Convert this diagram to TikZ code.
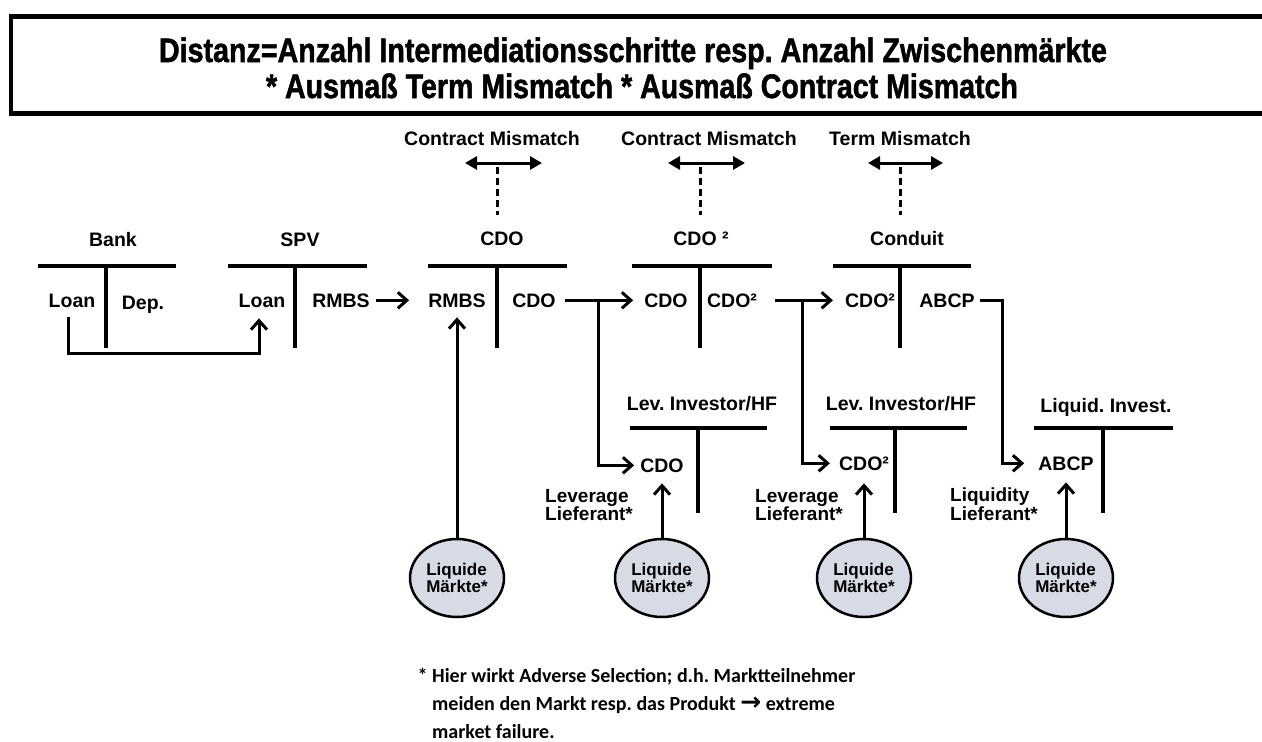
\documentclass[tikz,border=0pt]{standalone}
\usepackage{graphicx}
\usepackage{fontspec}
\setmainfont{Liberation Sans}
\newfontfamily\headfont{Liberation Sans}[FakeBold=1.6]
\newfontfamily\notefont{Carlito}
\newfontfamily\symbolfont{DejaVu Sans}
\usetikzlibrary{arrows.meta,shapes.geometric}
\definecolor{mkfill}{RGB}{214,219,229}
\frenchspacing

\begin{document}
\begin{tikzpicture}[x=1pt,y=-1pt,
  lbl/.style={font=\fontsize{19.5}{22}\selectfont\bfseries, inner sep=0pt, anchor=base},
  sidenote/.style={font=\fontsize{19}{17}\selectfont\bfseries, inner sep=0pt, align=left, anchor=west},
  titletext/.style={font=\headfont\fontsize{34}{34}\selectfont\bfseries, inner sep=0pt, anchor=base},
  acct/.style={line width=4.5pt},
  conn/.style={line width=3pt, -{Straight Barb[length=9pt,width=16pt]}},
  mism/.style={line width=3pt, {Triangle[length=12pt,width=13pt]}-{Triangle[length=12pt,width=13pt]}},
  dashline/.style={line width=3pt, dash pattern=on 7pt off 4pt},
  market/.style={ellipse, draw, line width=2.5pt, fill=mkfill, minimum width=94pt,
    minimum height=78pt, inner sep=0pt, align=left, font=\fontsize{17}{17}\selectfont\bfseries},
  footnote/.style={font=\notefont\fontsize{20}{28}\selectfont\bfseries, inner sep=0pt, align=left, anchor=north west}
]
\useasboundingbox (0,0) rectangle (1262,742);

% headline frame (runs off to the right)
\draw[line width=5pt] (9,16.5) -- (1275,16.5);
\draw[line width=5pt] (9,113) -- (1275,113);
\draw[line width=4pt] (11,14) -- (11,115.5);
\node[titletext] (t1) at (633,62) {\resizebox{948pt}{\height}{Distanz=Anzahl Intermediationsschritte resp. Anzahl Zwischenm\"arkte}};
\node[titletext] (t2) at (642,98) {\resizebox{752pt}{\height}{* Ausma\ss{} Term Mismatch * Ausma\ss{} Contract Mismatch}};

% balance-sheet titles
\node[lbl] (bankT) at (113,246) {Bank};
\node[lbl] (spvT)  at (300,246) {SPV};
\node[lbl] (cdoT)  at (502,245) {CDO};
\node[lbl] (cdoqT) at (701,245) {CDO ²};
\node[lbl] (condT) at (907,245) {Conduit};
\node[lbl] (lev1T) at (702,410) {Lev. Investor/HF};
\node[lbl] (lev2T) at (901,410) {Lev. Investor/HF};
\node[lbl] (liqT)  at (1106,412) {Liquid. Invest.};

% T-accounts
\draw[acct] (38,266) -- (176,266) (106,266) -- (106,348);
\draw[acct] (228,266) -- (367,266) (295,266) -- (295,348);
\draw[acct] (428,266) -- (567,266) (497,266) -- (497,348);
\draw[acct] (632,266) -- (772,266) (700,266) -- (700,348);
\draw[acct] (833,266) -- (971,266) (900,266) -- (900,348);
\draw[acct] (630,428) -- (767,428) (698,428) -- (698,513);
\draw[acct] (830,428) -- (967,428) (895,428) -- (895,513);
\draw[acct] (1034,428) -- (1173,428) (1103,428) -- (1103,513);

% account entries
\node[lbl] (bankL) at (72,307) {Loan};
\node[lbl] (bankD) at (143,309) {Dep.};
\node[lbl] (spvL)  at (262,307) {Loan};
\node[lbl] (spvR)  at (341,307) {RMBS};
\node[lbl] (cdoR)  at (457,307) {RMBS};
\node[lbl] (cdoC)  at (534,307) {CDO};
\node[lbl] (cdoqC) at (666,307) {CDO};
\node[lbl] (cdoqQ) at (732,307) {CDO²};
\node[lbl] (condQ) at (870,307) {CDO²};
\node[lbl] (condA) at (947,307) {ABCP};
\node[lbl] (lev1C) at (662,472) {CDO};
\node[lbl] (lev2Q) at (864,470) {CDO²};
\node[lbl] (liqA)  at (1066,470) {ABCP};

% mismatch markers
\node[lbl] (cm1) at (492,145) {Contract Mismatch};
\node[lbl] (cm2) at (709,145) {Contract Mismatch};
\node[lbl] (tm)  at (900,145) {Term Mismatch};
\coordinate (cm1a) at (465,163); \coordinate (cm1b) at (542,163);
\coordinate (cm2a) at (668,163); \coordinate (cm2b) at (745,163);
\coordinate (tma)  at (868,163); \coordinate (tmb)  at (943,163);
\draw[mism] (cm1a) -- (cm1b);
\draw[mism] (cm2a) -- (cm2b);
\draw[mism] (tma) -- (tmb);
\draw[dashline] (497,167) -- ([yshift=16pt]cdoT.north -| 497,0);
\draw[dashline] (700,167) -- ([yshift=16pt]cdoqT.north -| 700,0);
\draw[dashline] (900,167) -- ([yshift=16pt]condT.north -| 900,0);

% flows between the balance sheets
\draw[conn] ([xshift=-4pt,yshift=-10pt]bankL.south) -- ++(0,36) -| ([xshift=-3pt,yshift=-11pt]spvL.south);
\draw[conn] ([xshift=6pt]spvR.east) -- ([xshift=-19pt]cdoR.west);
\draw[conn] ([xshift=9pt]cdoC.east) -- ([xshift=-11pt]cdoqC.west);
\coordinate (j1) at (598,300);
\draw[conn] (j1) |- ([xshift=-6pt]lev1C.west);
\draw[conn] ([xshift=18pt]cdoqQ.east) -- ([xshift=-12pt]condQ.west);
\coordinate (j2) at (802,300);
\draw[conn] (j2) |- ([xshift=-9pt]lev2Q.west);
\draw[conn] ([xshift=5pt]condA.east) -- ++(23,0) |- ([xshift=-14pt]liqA.west);

% liquid markets
\node[market] (mk1) at (457,578) {Liquide\\M\"arkte*};
\node[market] (mk2) at (662,578) {Liquide\\M\"arkte*};
\node[market] (mk3) at (864,578) {Liquide\\M\"arkte*};
\node[market] (mk4) at (1066,578) {Liquide\\M\"arkte*};
\draw[conn] (mk1.north) -- ([yshift=-10pt]cdoR.south);
\draw[conn] (mk2.north) -- ([yshift=-11pt]lev1C.south);
\draw[conn] (mk3.north) -- ([yshift=-13pt]lev2Q.south);
\draw[conn] (mk4.north) -- ([yshift=-12pt]liqA.south);

\node[sidenote] (levn1) at (545,505) {Leverage\\Lieferant*};
\node[sidenote] (levn2) at (755,505) {Leverage\\Lieferant*};
\node[sidenote] (liqn)  at (950,504) {Liquidity\\Lieferant*};

% footnote
\node[footnote] (fn) at (432,668) {\llap{*\ }Hier wirkt Adverse Selection; d.h. Marktteilnehmer\\
meiden den Markt resp. das Produkt {\symbolfont\bfseries\scalebox{1.25}{→}} extreme\\
market failure.};
\end{tikzpicture}
\end{document}
